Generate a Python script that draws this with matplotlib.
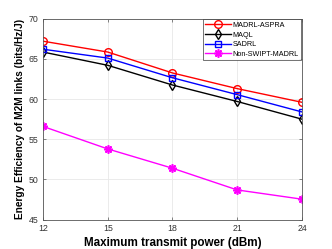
import matplotlib
matplotlib.use("Agg")
import matplotlib.pyplot as plt

power = [12, 15, 18, 21, 24]
madrl_aspra = [67.2, 65.85, 63.25, 61.3, 59.6]
maql = [65.85, 64.2, 61.75, 59.7, 57.5]
sadrl = [66.2, 65.1, 62.65, 60.55, 58.4]
non_swipt = [56.6, 53.8, 51.4, 48.7, 47.55]
labels = ["MADRL-ASPRA", "MAQL", "SADRL", "Non-SWIPT-MADRL"]
yticks = [45, 50, 55, 60, 65, 70]

plt.rcParams['font.family'] = ['Liberation Sans', 'DejaVu Sans']
fig = plt.figure(figsize=(3.32, 2.49), dpi=100)
ax = fig.add_axes([0.1295, 0.1177, 0.7801, 0.8073])

ax.plot(power, madrl_aspra, color='#ff0000', marker='o', markersize=5.5, mfc='none', mew=1.0, lw=1.0, label=labels[0])
ax.plot(power, maql, color='#000000', marker='d', markersize=5.5, mfc='none', mew=1.0, lw=1.0, label=labels[1])
ax.plot(power, sadrl, color='#0000ff', marker='s', markersize=4.5, mfc='none', mew=1.0, lw=1.0, label=labels[2])
ax.plot(power, non_swipt, color='#ff00ff', marker=(8, 2, 0), markersize=6, mew=1.2, lw=1.0, label=labels[3])

ax.set_xlim(12, 24)
ax.set_ylim(45, 70)
ax.set_xticks(power)
ax.set_yticks(yticks)
ax.grid(True, color='#e8e8e8', lw=0.6)
ax.set_axisbelow(True)
for s in ax.spines.values():
    s.set_color('#555555')
    s.set_linewidth(0.6)
ax.tick_params(direction='in', length=2.5, width=0.5, colors='#555555', labelsize=6.3, labelcolor='#333333', top=True, right=True, pad=3)

ax.set_xlabel('Maximum transmit power (dBm)', fontsize=8.4, fontweight='bold', labelpad=3)
ax.set_ylabel('Energy Efficiency of M2M links (bits/Hz/J)', fontsize=7.3, fontweight='bold', labelpad=3)

leg = ax.legend(loc='upper right', fontsize=5.2, frameon=True, fancybox=False, borderaxespad=0.1,
                handlelength=3.6, handletextpad=0.2, labelspacing=0.35, borderpad=0.35)
leg.get_frame().set_edgecolor('#333333')
leg.get_frame().set_linewidth(0.6)

fig.savefig('out.png', dpi=100)
